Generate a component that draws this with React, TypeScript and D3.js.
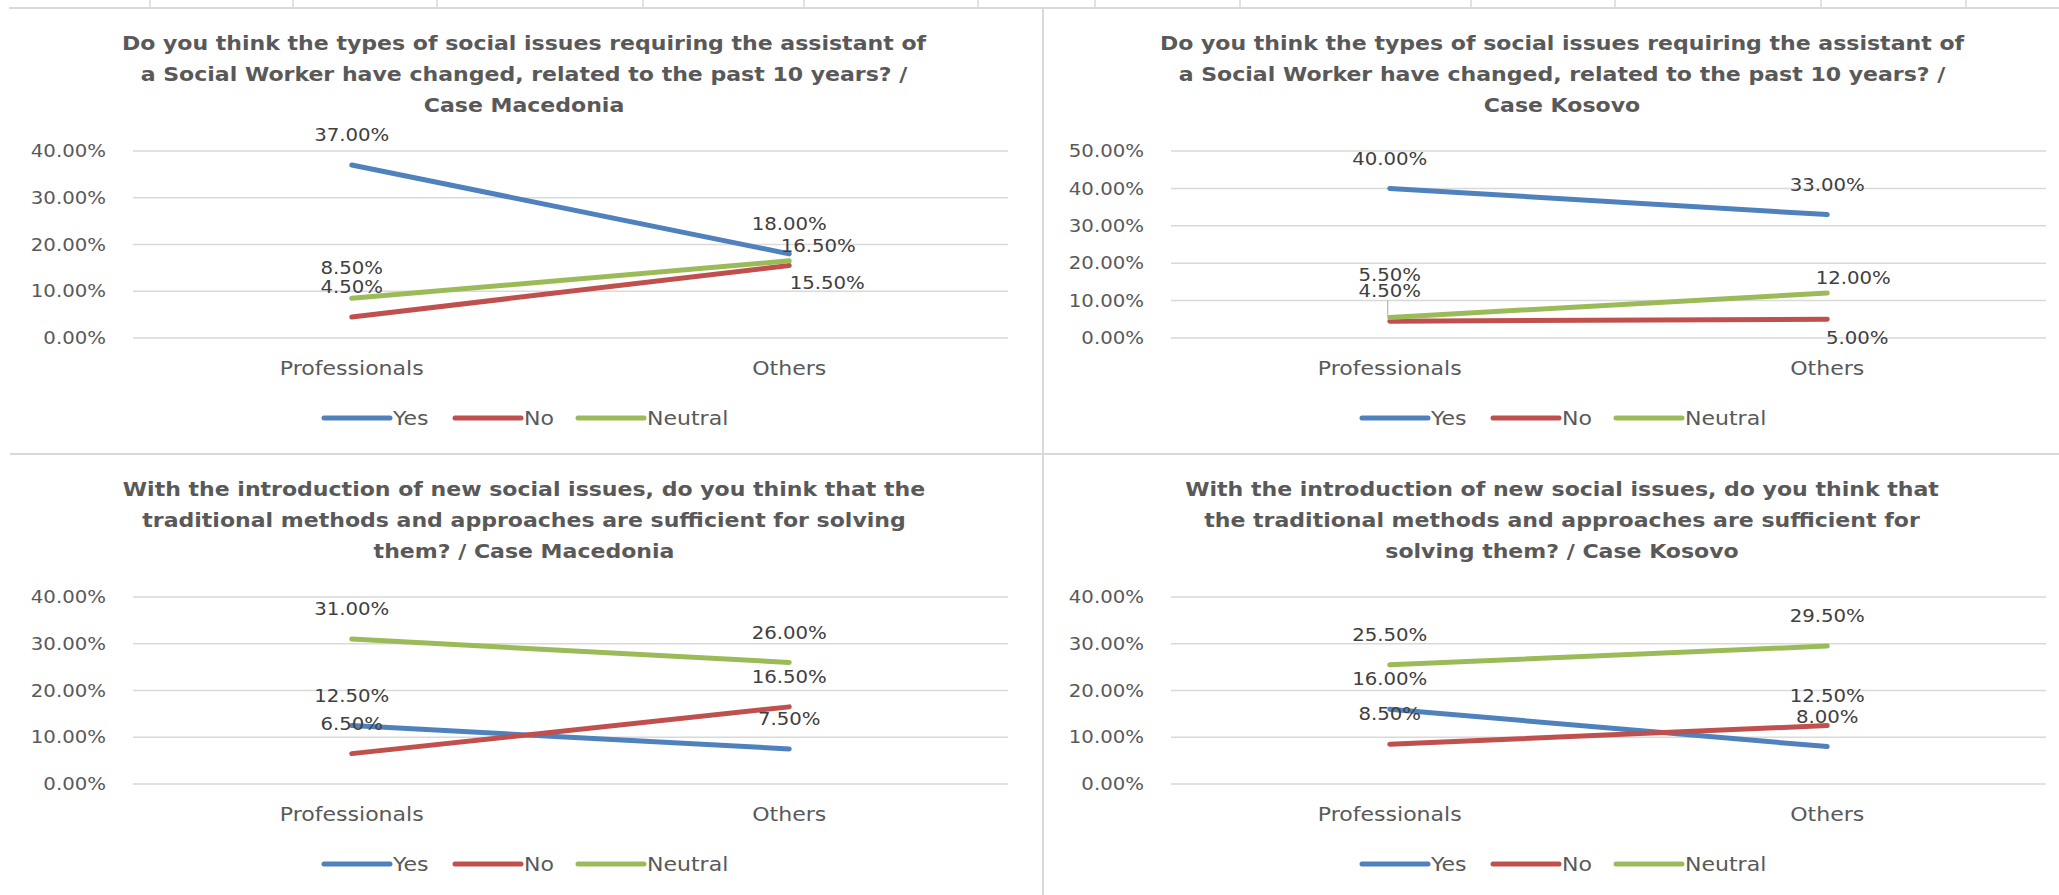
import React from 'react';
import * as d3 from 'd3';

// categories / series
const categories = ['Professionals', 'Others'];
const seriesNames = ['Yes', 'No', 'Neutral'];
const seriesColors = ['#4F81BD', '#C0504D', '#9BBB59'];

// "types of social issues changed" - Macedonia
const changedMkYes = [0.37, 0.18];
const changedMkNo = [0.045, 0.155];
const changedMkNeutral = [0.085, 0.165];
// "types of social issues changed" - Kosovo
const changedKsYes = [0.4, 0.33];
const changedKsNo = [0.045, 0.05];
const changedKsNeutral = [0.055, 0.12];
// "traditional methods sufficient" - Macedonia
const methodsMkYes = [0.125, 0.075];
const methodsMkNo = [0.065, 0.165];
const methodsMkNeutral = [0.31, 0.26];
// "traditional methods sufficient" - Kosovo
const methodsKsYes = [0.16, 0.08];
const methodsKsNo = [0.085, 0.125];
const methodsKsNeutral = [0.255, 0.295];

const ticks40 = [0, 0.1, 0.2, 0.3, 0.4];
const ticks50 = [0, 0.1, 0.2, 0.3, 0.4, 0.5];

const titleChangedMk = [
  'Do you think the types of social issues requiring the assistant of',
  'a Social Worker have changed, related to the past 10 years? /',
  'Case Macedonia',
];
const titleChangedKs = [
  'Do you think the types of social issues requiring the assistant of',
  'a Social Worker have changed, related to the past 10 years? /',
  'Case Kosovo',
];
const titleMethodsMk = [
  'With the introduction of new social issues, do you think that the',
  'traditional methods and approaches are sufficient for solving',
  'them? / Case Macedonia',
];
const titleMethodsKs = [
  'With the introduction of new social issues, do you think that',
  'the traditional methods and approaches are sufficient for',
  'solving them? / Case Kosovo',
];

const W = 2059;
const H = 895;
const FONT = '"DejaVu Sans", Verdana, sans-serif';
const SX = 1.16; // the source picture is a bit stretched sideways
const GRID = '#D9D9D9';

// label nudges: key "series-category" -> [dx, dy], default is above the point
type Nudge = Record<string, [number, number]>;

const panels = [
  { ox: 0, oy: 0, title: titleChangedMk, ticks: ticks40, values: [changedMkYes, changedMkNo, changedMkNeutral],
    nudge: { '2-1': [29, -15], '1-1': [38, 17] } as Nudge },
  { ox: 1038, oy: 0, title: titleChangedKs, ticks: ticks50, values: [changedKsYes, changedKsNo, changedKsNeutral],
    nudge: { '2-0': [0, -43], '2-1': [26, -15], '1-1': [30, 19] } as Nudge },
  { ox: 0, oy: 446, title: titleMethodsMk, ticks: ticks40, values: [methodsMkYes, methodsMkNo, methodsMkNeutral],
    nudge: {} as Nudge },
  { ox: 1038, oy: 446, title: titleMethodsKs, ticks: ticks40, values: [methodsKsYes, methodsKsNo, methodsKsNeutral],
    nudge: {} as Nudge },
];

const colTicksX = [150, 293, 437, 643, 804, 978, 1095, 1240, 1471, 1615, 1821, 1966];

const pct = d3.format('.2%');

function T({ x, y, children, size = 17, weight = 400, fill = '#595959', anchor = 'middle' }: any) {
  return (
    <text
      transform={`translate(${x},${y}) scale(${SX},1)`}
      textAnchor={anchor}
      dy="0.36em"
      fontSize={size}
      fontWeight={weight}
      fill={fill}
      fontFamily={FONT}
    >
      {children}
    </text>
  );
}

function Panel({ ox, oy, title, ticks, values, nudge }: any) {
  const x = d3.scalePoint<string>().domain(categories).range([ox + 133, ox + 1008]).padding(0.5);
  const y = d3.scaleLinear().domain([0, ticks[ticks.length - 1]]).range([oy + 338, oy + 151]);
  const line = d3.line<number>().x((_, i) => x(categories[i])!).y(d => y(d));

  const legendLines = [ox + 324, ox + 455, ox + 578];
  const legendY = oy + 418;

  return (
    <g>
      {title.map((t: string, i: number) => (
        <T key={t} x={ox + 524} y={oy + 43 + i * 31} size={19} weight={700}>{t}</T>
      ))}

      {ticks.map((t: number) => (
        <g key={t}>
          <line x1={ox + 133} x2={ox + 1008} y1={y(t)} y2={y(t)} stroke={GRID} strokeWidth={1.5} />
          <T x={ox + 106} y={y(t)} anchor="end" size={17}>{pct(t)}</T>
        </g>
      ))}

      {categories.map(c => (
        <T key={c} x={x(c)} y={oy + 368} size={19}>{c}</T>
      ))}

      {values.map((v: number[], s: number) => (
        <path key={s} d={line(v)!} fill="none" stroke={seriesColors[s]} strokeWidth={5} strokeLinecap="round" />
      ))}

      {values.map((v: number[], s: number) =>
        v.map((d, i) => {
          const [dx, dy] = nudge[`${s}-${i}`] || [0, -30];
          const px = x(categories[i])!;
          const py = y(d);
          return (
            <g key={`${s}-${i}`}>
              {dy < -35 && (
                <line x1={px - 2} x2={px - 2} y1={py + dy + 26} y2={py - 1} stroke="#A6A6A6" strokeWidth={1} />
              )}
              <T x={px + dx} y={py + dy} size={17} fill="#404040">{pct(d)}</T>
            </g>
          );
        })
      )}

      {seriesNames.map((n, s) => (
        <g key={n}>
          <line x1={legendLines[s]} x2={legendLines[s] + 66} y1={legendY} y2={legendY}
            stroke={seriesColors[s]} strokeWidth={5} strokeLinecap="round" />
          <T x={legendLines[s] + 69} y={legendY} anchor="start" size={19}>{n}</T>
        </g>
      ))}
    </g>
  );
}

export default function App() {
  return (
    <svg width={W} height={H} style={{ position: 'absolute', left: 0, top: 0, background: '#fff' }}>
      <rect width={W} height={H} fill="#fff" />
      {/* sheet cell borders behind the charts */}
      <line x1={9} x2={W} y1={8} y2={8} stroke={GRID} strokeWidth={2} />
      {colTicksX.map(cx => (
        <line key={cx} x1={cx} x2={cx} y1={0} y2={8} stroke={GRID} strokeWidth={1.5} />
      ))}
      <line x1={10} x2={W} y1={454} y2={454} stroke={GRID} strokeWidth={2} />
      <line x1={1043} x2={1043} y1={8} y2={H} stroke={GRID} strokeWidth={2} />

      {panels.map((p, i) => (
        <Panel key={i} {...p} />
      ))}
    </svg>
  );
}
